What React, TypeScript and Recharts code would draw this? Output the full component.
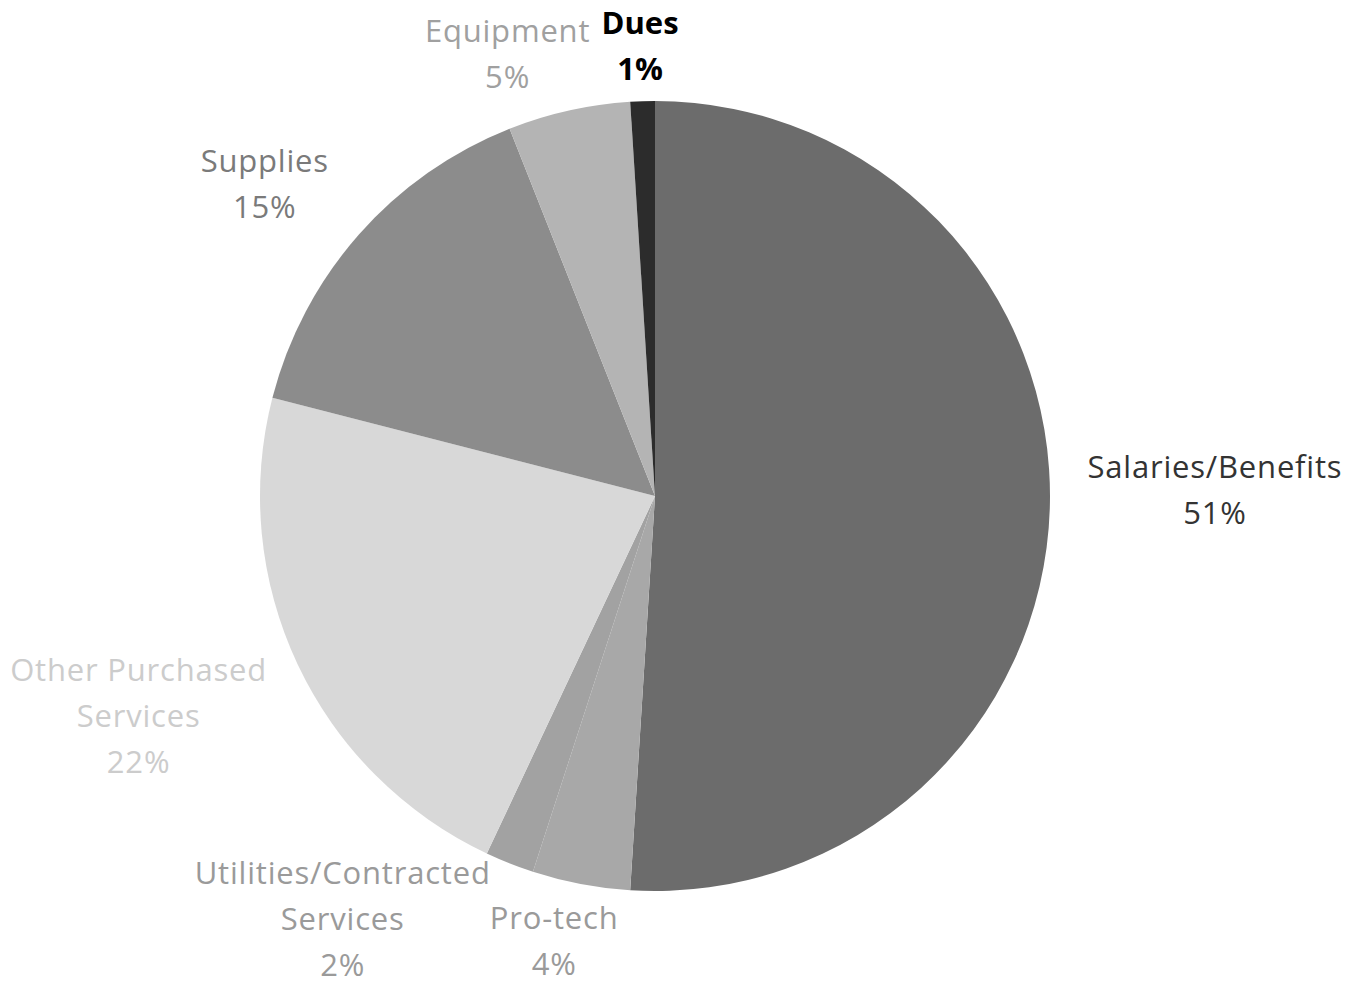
import { PieChart, Pie, Cell } from 'recharts';

const categories = [
  'Salaries/Benefits',
  'Pro-tech',
  'Utilities/Contracted Services',
  'Other Purchased Services',
  'Supplies',
  'Equipment',
  'Dues',
];
const shares = [51, 4, 2, 22, 15, 5, 1];

// label lines as Excel wrapped them
const labelLines = [
  ['Salaries/Benefits'],
  ['Pro-tech'],
  ['Utilities/Contracted', 'Services'],
  ['Other Purchased', 'Services'],
  ['Supplies'],
  ['Equipment'],
  ['Dues'],
];

const sliceColors = ['#6c6c6c', '#a8a8a8', '#a2a2a2', '#d8d8d8', '#8c8c8c', '#b4b4b4', '#2c2c2c'];
const labelColors = ['#333333', '#9a9a9a', '#9a9a9a', '#cccccc', '#7a7a7a', '#a0a0a0', '#000000'];
// label placement: [angle clockwise from top, distance from centre]
const labelPlace: [number, number][] = [
  [89.3, 560],
  [192.8, 455],
  [216.5, 525],
  [247, 561],
  [308.7, 500],
  [341.6, 467],
  [358.1, 451],
];

const data = categories.map((name, i) => ({ name, value: shares[i] }));

const CX = 647;
const CY = 488;
const LINE = 46;

function renderLabel(props: any) {
  const i = props.index;
  const [ang, dist] = labelPlace[i];
  const rad = (ang * Math.PI) / 180;
  const x = CX + dist * Math.sin(rad);
  const y = CY - dist * Math.cos(rad);
  const lines = [...labelLines[i], `${shares[i]}%`];
  const top = y - ((lines.length - 1) * LINE) / 2;
  return (
    <text
      key={`lbl-${i}`}
      x={x}
      textAnchor="middle"
      dominantBaseline="central"
      fill={labelColors[i]}
      fontSize={31}
      letterSpacing={i === 6 ? 0 : 0.8}
      fontWeight={i === 6 ? 700 : 400}
      fontFamily="'Open Sans', sans-serif"
    >
      {lines.map((l, k) => (
        <tspan key={k} x={x} y={top + k * LINE}>
          {l}
        </tspan>
      ))}
    </text>
  );
}

export default function App() {
  return (
    <div style={{ width: 1344, height: 977, background: '#fff' }}>
      <PieChart width={1344} height={977} margin={{ top: 0, right: 0, bottom: 0, left: 0 }}>
        <Pie
          data={data}
          dataKey="value"
          nameKey="name"
          cx={CX}
          cy={CY}
          outerRadius={395}
          startAngle={90}
          endAngle={-270}
          stroke="none"
          label={renderLabel}
          labelLine={false}
          isAnimationActive={false}
        >
          {data.map((d, i) => (
            <Cell key={d.name} fill={sliceColors[i]} />
          ))}
        </Pie>
      </PieChart>
    </div>
  );
}
